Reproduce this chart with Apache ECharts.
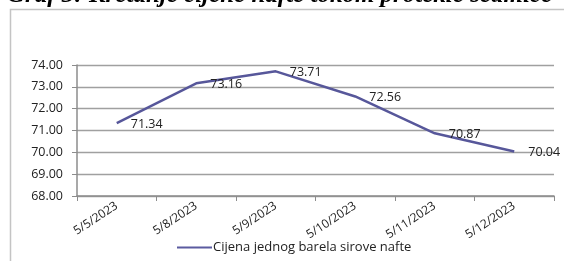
<!DOCTYPE html>
<html><head><meta charset="utf-8">
<script src="https://cdn.jsdelivr.net/npm/echarts@6/dist/echarts.min.js"></script>
<style>html,body{margin:0;padding:0;background:#fff}#c{width:564px;height:261px}</style>
</head><body><div id="c"></div>
<script>
const categories = ['5/5/2023','5/8/2023','5/9/2023','5/10/2023','5/11/2023','5/12/2023'];
const prices = [71.34, 73.16, 73.71, 72.56, 70.87, 70.04];
const seriesName = 'Cijena jednog barela sirove nafte';
const titleText = 'Graf 3: Kretanje cijene nafte tokom protekle sedmice';

const chart = echarts.init(document.getElementById('c'), null, {renderer:'canvas'});
chart.setOption({
  animation:false,
  graphic:[
    {type:'rect', shape:{x:10.5,y:9.5,width:600,height:300}, style:{fill:null, stroke:'#c4c4c4', lineWidth:1.5}, z:-1},
    {type:'text', left:7, top:-17, style:{text:titleText, font:'italic bold 25px "Liberation Serif"', fill:'#000'}}
  ],
  grid:{left:77, right:10, top:65, bottom:65},
  legend:{bottom:2, left:172, itemWidth:35, itemHeight:2, itemGap:5,
    textStyle:{fontFamily:'"Open Sans"', fontSize:13, color:'#222', padding:[0,0,0,-4]},
    data:[{name:seriesName, icon:'rect'}]},
  xAxis:{type:'category', data:categories, boundaryGap:true,
    axisLine:{lineStyle:{color:'#8c8c8c', width:1.5}},
    axisTick:{show:true, length:5, alignWithLabel:false, lineStyle:{color:'#8c8c8c'}},
    axisLabel:{interval:0, rotate:33, fontFamily:'"Open Sans"', fontSize:12, color:'#222', margin:9}},
  yAxis:{type:'value', min:68, max:74, interval:1,
    axisLine:{show:true, lineStyle:{color:'#8c8c8c', width:1.5}},
    axisTick:{show:true, length:5, inside:false, lineStyle:{color:'#8c8c8c'}},
    splitLine:{lineStyle:{color:'#a0a0a0', width:1.3}},
    axisLabel:{formatter:v=>v.toFixed(2), fontFamily:'"Open Sans"', fontSize:12.5, color:'#222', margin:14}},
  series:[{name:seriesName, type:'line', data:prices, symbol:'circle', symbolSize:0, showSymbol:true,
    lineStyle:{color:'#57579a', width:2.5}, itemStyle:{color:'#5b5ba0'},
    label:{show:true, position:'right', distance:14, offset:[0,1], formatter:p=>p.value.toFixed(2),
      fontFamily:'"Open Sans"', fontSize:12.5, color:'#222'}}]
});
</script></body></html>
